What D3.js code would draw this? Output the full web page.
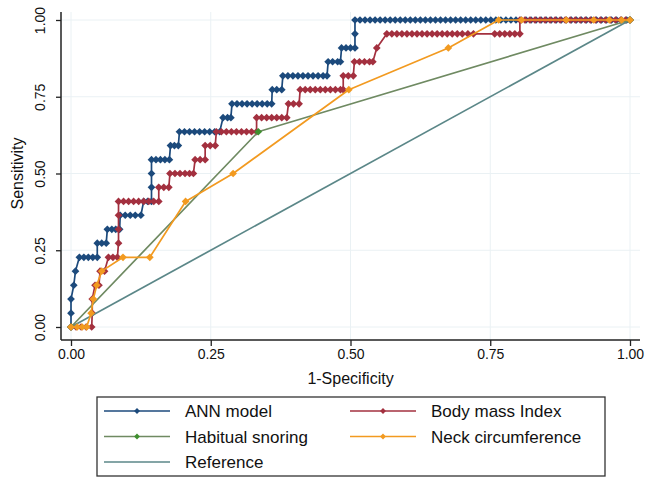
<!DOCTYPE html>
<html>
<head>
<meta charset="utf-8">
<script src="https://cdn.jsdelivr.net/npm/d3@7"></script>
<style>
  html, body { margin: 0; padding: 0; background: #fff; }
  svg { display: block; font-family: "Liberation Sans", Arial, sans-serif; }
</style>
</head>
<body>
<script>
// ---------- data ----------
const tickValues = [0, 0.25, 0.5, 0.75, 1];
const xTitle = "1-Specificity";
const yTitle = "Sensitivity";
const seriesNames = ["ANN model", "Body mass Index", "Habitual snoring", "Neck circumference", "Reference"];

// [1-specificity, sensitivity]
const annPoints = [
  [0,0],[0,0.045],[0,0.091],[0.005,0.136],[0.008,0.182],
  [0.015,0.227],[0.023,0.227],[0.031,0.227],[0.039,0.227],[0.047,0.227],
  [0.047,0.273],[0.055,0.273],[0.063,0.273],
  [0.065,0.318],[0.073,0.318],[0.080,0.318],[0.087,0.318],
  [0.088,0.364],[0.097,0.364],[0.106,0.364],[0.115,0.364],[0.125,0.364],
  [0.130,0.409],[0.137,0.409],[0.144,0.409],[0.144,0.455],[0.144,0.5],
  [0.144,0.545],[0.152,0.545],[0.160,0.545],[0.168,0.545],[0.176,0.545],
  [0.178,0.591],[0.185,0.591],[0.192,0.591],
  [0.194,0.636],[0.203,0.636],[0.212,0.636],[0.221,0.636],[0.230,0.636],[0.239,0.636],[0.248,0.636],[0.257,0.636],[0.266,0.636],
  [0.272,0.682],[0.280,0.682],[0.286,0.682],
  [0.288,0.727],[0.297,0.727],[0.306,0.727],[0.315,0.727],[0.324,0.727],[0.333,0.727],[0.342,0.727],[0.351,0.727],[0.359,0.727],
  [0.360,0.773],[0.368,0.773],[0.377,0.773],
  [0.379,0.818],[0.388,0.818],[0.397,0.818],[0.406,0.818],[0.415,0.818],[0.424,0.818],[0.433,0.818],[0.442,0.818],[0.451,0.818],[0.458,0.818],
  [0.460,0.864],[0.468,0.864],[0.477,0.864],[0.482,0.864],
  [0.484,0.909],[0.492,0.909],[0.500,0.909],[0.508,0.909],
  [0.508,0.955],[0.508,1],
  [0.517,1],[0.526,1],[0.535,1],[0.544,1],[0.553,1],[0.562,1],[0.571,1],[0.580,1],[0.589,1],[0.598,1],
  [0.607,1],[0.616,1],[0.625,1],[0.634,1],[0.643,1],[0.652,1],[0.661,1],[0.670,1],[0.679,1],[0.688,1],
  [0.697,1],[0.706,1],[0.715,1],[0.724,1],[0.733,1],[0.742,1],[0.751,1],[0.760,1],[0.769,1],[0.778,1],
  [0.787,1],[0.796,1],[0.805,1],[0.814,1],[0.823,1],[0.832,1],[0.841,1],[0.850,1],[0.859,1],[0.868,1],
  [0.877,1],[0.886,1],[0.895,1],[0.904,1],[0.913,1],[0.922,1],[0.931,1],[0.940,1],[0.949,1],[0.958,1],
  [0.967,1],[0.976,1],[0.985,1],[0.994,1],[1,1]
];

const bmiPoints = [
  [0,0],[0.009,0],[0.018,0],[0.027,0],[0.037,0],
  [0.038,0.045],[0.038,0.091],
  [0.043,0.136],[0.050,0.136],
  [0.052,0.182],[0.060,0.182],
  [0.067,0.227],[0.075,0.227],[0.083,0.227],
  [0.085,0.273],[0.085,0.318],[0.085,0.364],[0.085,0.409],
  [0.094,0.409],[0.103,0.409],[0.112,0.409],[0.121,0.409],[0.130,0.409],[0.139,0.409],[0.148,0.409],[0.157,0.409],
  [0.157,0.455],[0.166,0.455],[0.175,0.455],
  [0.177,0.5],[0.186,0.5],[0.195,0.5],[0.204,0.5],[0.212,0.5],[0.219,0.5],
  [0.222,0.545],[0.231,0.545],[0.240,0.545],
  [0.240,0.591],[0.249,0.591],[0.258,0.591],
  [0.260,0.636],[0.269,0.636],[0.278,0.636],[0.287,0.636],[0.296,0.636],[0.305,0.636],[0.314,0.636],[0.323,0.636],[0.332,0.636],
  [0.332,0.682],[0.341,0.682],[0.350,0.682],[0.359,0.682],[0.368,0.682],[0.377,0.682],[0.386,0.682],
  [0.389,0.727],[0.398,0.727],[0.408,0.727],
  [0.410,0.773],[0.419,0.773],[0.428,0.773],[0.437,0.773],[0.446,0.773],[0.455,0.773],[0.464,0.773],[0.473,0.773],[0.482,0.773],[0.487,0.773],
  [0.487,0.818],[0.496,0.818],[0.505,0.818],
  [0.507,0.864],[0.516,0.864],[0.525,0.864],[0.534,0.864],[0.540,0.864],
  [0.547,0.909],
  [0.565,0.955],[0.574,0.955],[0.583,0.955],[0.592,0.955],[0.601,0.955],[0.610,0.955],[0.619,0.955],[0.628,0.955],
  [0.637,0.955],[0.646,0.955],[0.655,0.955],[0.664,0.955],[0.673,0.955],[0.682,0.955],[0.691,0.955],[0.700,0.955],[0.710,0.955],[0.720,0.955],
  [0.758,0.955],[0.767,0.955],[0.776,0.955],[0.785,0.955],[0.794,0.955],[0.803,0.955],
  [0.803,1],[0.812,1],[0.821,1],[0.830,1],[0.839,1],[0.848,1],[0.857,1],[0.866,1],[0.875,1],[0.884,1],
  [0.893,1],[0.902,1],[0.911,1],[0.920,1],[0.929,1],[0.938,1],[0.947,1],[0.956,1],[0.965,1],[0.974,1],[0.983,1],[0.992,1],[1,1]
];

const snoringPoints = [[0,0],[0.335,0.636],[1,1]];

const neckPoints = [
  [0,0],[0.011,0],[0.020,0],[0.028,0],
  [0.036,0.045],[0.040,0.091],[0.046,0.136],[0.055,0.182],
  [0.093,0.227],[0.141,0.227],[0.205,0.409],[0.290,0.5],
  [0.497,0.773],[0.675,0.909],[0.765,1],[0.806,1],[0.886,1],[0.935,1],[0.963,1],[0.985,1],[1,1]
];

const referencePoints = [[0,0],[1,1]];

// ---------- styling ----------
const colors = {
  ann: "#1c4a7c",
  bmi: "#a3303f",
  snoringLine: "#6f8a62",
  snoringMarker: "#3f8f2e",
  neck: "#f29a20",
  ref: "#5b8788"
};

const W = 647, H = 479;
const svg = d3.select("body").append("svg").attr("width", W).attr("height", H);
svg.append("rect").attr("width", W).attr("height", H).attr("fill", "#fff");

const x = d3.scaleLinear().domain([0, 1]).range([71, 630]);
const y = d3.scaleLinear().domain([0, 1]).range([327, 20]);

const plotLeft = 61, plotRight = 640, plotTop = 12, plotBottom = 340;

// gridlines
const grid = svg.append("g");
tickValues.forEach(v => {
  grid.append("line").attr("x1", x(v)).attr("x2", x(v)).attr("y1", plotTop).attr("y2", plotBottom)
    .attr("stroke", "#eaf1f4").attr("stroke-width", 1);
  grid.append("line").attr("x1", plotLeft).attr("x2", plotRight).attr("y1", y(v)).attr("y2", y(v))
    .attr("stroke", "#eaf1f4").attr("stroke-width", 1);
});

// axes
const fmt = d3.format(".2f");
const xAxis = svg.append("g").attr("transform", `translate(0,${plotBottom})`)
  .call(d3.axisBottom(x).tickValues(tickValues).tickFormat(fmt).tickSize(6).tickSizeOuter(0));
xAxis.select(".domain").remove();
xAxis.selectAll(".tick line").attr("stroke", "#222").attr("stroke-width", 1.3);
xAxis.selectAll(".tick text").attr("font-size", 14).attr("fill", "#111").attr("y", 9).attr("dy", "0.71em")
  .attr("font-family", "Liberation Sans, Arial, sans-serif");
svg.append("line").attr("x1", plotLeft).attr("x2", plotRight).attr("y1", plotBottom).attr("y2", plotBottom)
  .attr("stroke", "#222").attr("stroke-width", 1.5);

const yAxis = svg.append("g").attr("transform", `translate(${plotLeft},0)`)
  .call(d3.axisLeft(y).tickValues(tickValues).tickFormat(fmt).tickSize(5).tickSizeOuter(0));
yAxis.select(".domain").remove();
yAxis.selectAll(".tick line").attr("stroke", "#222").attr("stroke-width", 1.3);
yAxis.selectAll(".tick text")
  .attr("x", null).attr("dy", null)
  .attr("text-anchor", "middle")
  .attr("transform", "translate(-16,0) rotate(-90)")
  .attr("font-size", 14).attr("fill", "#111")
  .attr("font-family", "Liberation Sans, Arial, sans-serif");
svg.append("line").attr("x1", plotLeft).attr("x2", plotLeft).attr("y1", plotTop).attr("y2", plotBottom)
  .attr("stroke", "#222").attr("stroke-width", 1.5);

// titles
svg.append("text").attr("x", (x(0) + x(1)) / 2).attr("y", 384).attr("text-anchor", "middle")
  .attr("font-size", 16).attr("fill", "#111").text(xTitle);
svg.append("text").attr("transform", `translate(23,${y(0.5)}) rotate(-90)`).attr("text-anchor", "middle")
  .attr("font-size", 16).attr("fill", "#111").text(yTitle);

// series
const line = d3.line().x(d => x(d[0])).y(d => y(d[1]));
const diamond = d3.symbol().type(d3.symbolDiamond2).size(38);

function drawSeries(points, lineColor, markerColor, markers) {
  const g = svg.append("g");
  g.append("path").datum(points).attr("d", line).attr("fill", "none")
    .attr("stroke", lineColor).attr("stroke-width", 1.7).attr("stroke-linejoin", "round");
  if (markers) {
    g.selectAll("path.m").data(points).join("path").attr("class", "m")
      .attr("d", diamond).attr("transform", d => `translate(${x(d[0])},${y(d[1])})`)
      .attr("fill", markerColor).attr("stroke", "none");
  }
}

drawSeries(annPoints, colors.ann, colors.ann, true);
drawSeries(bmiPoints, colors.bmi, colors.bmi, true);
drawSeries(referencePoints, colors.ref, colors.ref, false);
drawSeries(snoringPoints, colors.snoringLine, colors.snoringMarker, true);
drawSeries(neckPoints, colors.neck, colors.neck, true);

// legend
const legend = svg.append("g");
legend.append("rect").attr("x", 97).attr("y", 397).attr("width", 508).attr("height", 79)
  .attr("fill", "#fff").attr("stroke", "#333").attr("stroke-width", 1.3);
const legendItems = [
  { name: seriesNames[0], line: colors.ann, marker: colors.ann, col: 0, row: 0, m: true },
  { name: seriesNames[1], line: colors.bmi, marker: colors.bmi, col: 1, row: 0, m: true },
  { name: seriesNames[2], line: colors.snoringLine, marker: colors.snoringMarker, col: 0, row: 1, m: true },
  { name: seriesNames[3], line: colors.neck, marker: colors.neck, col: 1, row: 1, m: true },
  { name: seriesNames[4], line: colors.ref, marker: colors.ref, col: 0, row: 2, m: false }
];
const legendDiamond = d3.symbol().type(d3.symbolDiamond2).size(22);
const colX = [104, 350], rowY = [411, 436.5, 462];
legendItems.forEach(it => {
  const lx = colX[it.col], ly = rowY[it.row];
  legend.append("line").attr("x1", lx).attr("x2", lx + 66).attr("y1", ly).attr("y2", ly)
    .attr("stroke", it.line).attr("stroke-width", 1.4);
  if (it.m) {
    legend.append("path").attr("d", legendDiamond).attr("transform", `translate(${lx + 33},${ly})`).attr("fill", it.marker);
  }
  legend.append("text").attr("x", lx + 81).attr("y", ly + 6).attr("font-size", 17).attr("fill", "#111")
    .text(it.name);
});
</script>
</body>
</html>
